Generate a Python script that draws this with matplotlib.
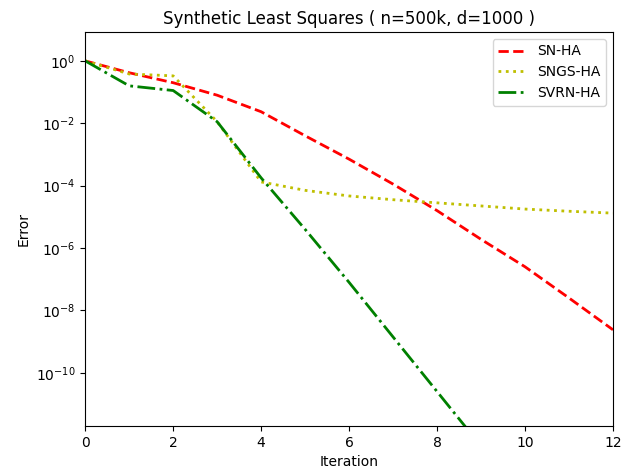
import matplotlib
matplotlib.use('Agg')
import matplotlib.pyplot as plt
import numpy as np

iterations = np.arange(0, 13)
# log10 of the error at each iteration
sn_ha_log = [0, -0.38, -0.7, -1.1, -1.63, -2.4, -3.15, -3.95, -4.8, -5.72, -6.6, -7.6, -8.62]
sngs_ha_log = [0, -0.42, -0.48, -1.95, -3.88, -4.15, -4.33, -4.45, -4.55, -4.65, -4.75, -4.82, -4.88]
svrn_ha_log = [0, -0.8, -0.95, -1.95, -3.75, -5.4, -7.1, -8.85, -10.6, -12.35, -14.1, -15.0, -15.0]

sn_ha = 10.0 ** np.array(sn_ha_log)
sngs_ha = 10.0 ** np.array(sngs_ha_log)
svrn_ha = 10.0 ** np.array(svrn_ha_log)

fig = plt.figure(figsize=(6.22, 4.69), dpi=100)
plt.subplots_adjust(left=0.137, right=0.9855, top=0.932, bottom=0.092)
plt.plot(iterations, sn_ha, 'r--', linewidth=2, label='SN-HA')
plt.plot(iterations, sngs_ha, 'y:', linewidth=2, label='SNGS-HA')
plt.plot(iterations, svrn_ha, 'g-.', linewidth=2, label='SVRN-HA')
plt.yscale('log')
plt.xlim(0, 12)
plt.ylim(2e-12, 8.5)
plt.yticks([1e0, 1e-2, 1e-4, 1e-6, 1e-8, 1e-10])
plt.minorticks_off()
plt.title("Synthetic Least Squares ( n=500k, d=1000 )")
plt.xlabel("Iteration")
plt.ylabel("Error")
plt.legend(loc='upper right')

plt.savefig("out.png")
plt.close()
